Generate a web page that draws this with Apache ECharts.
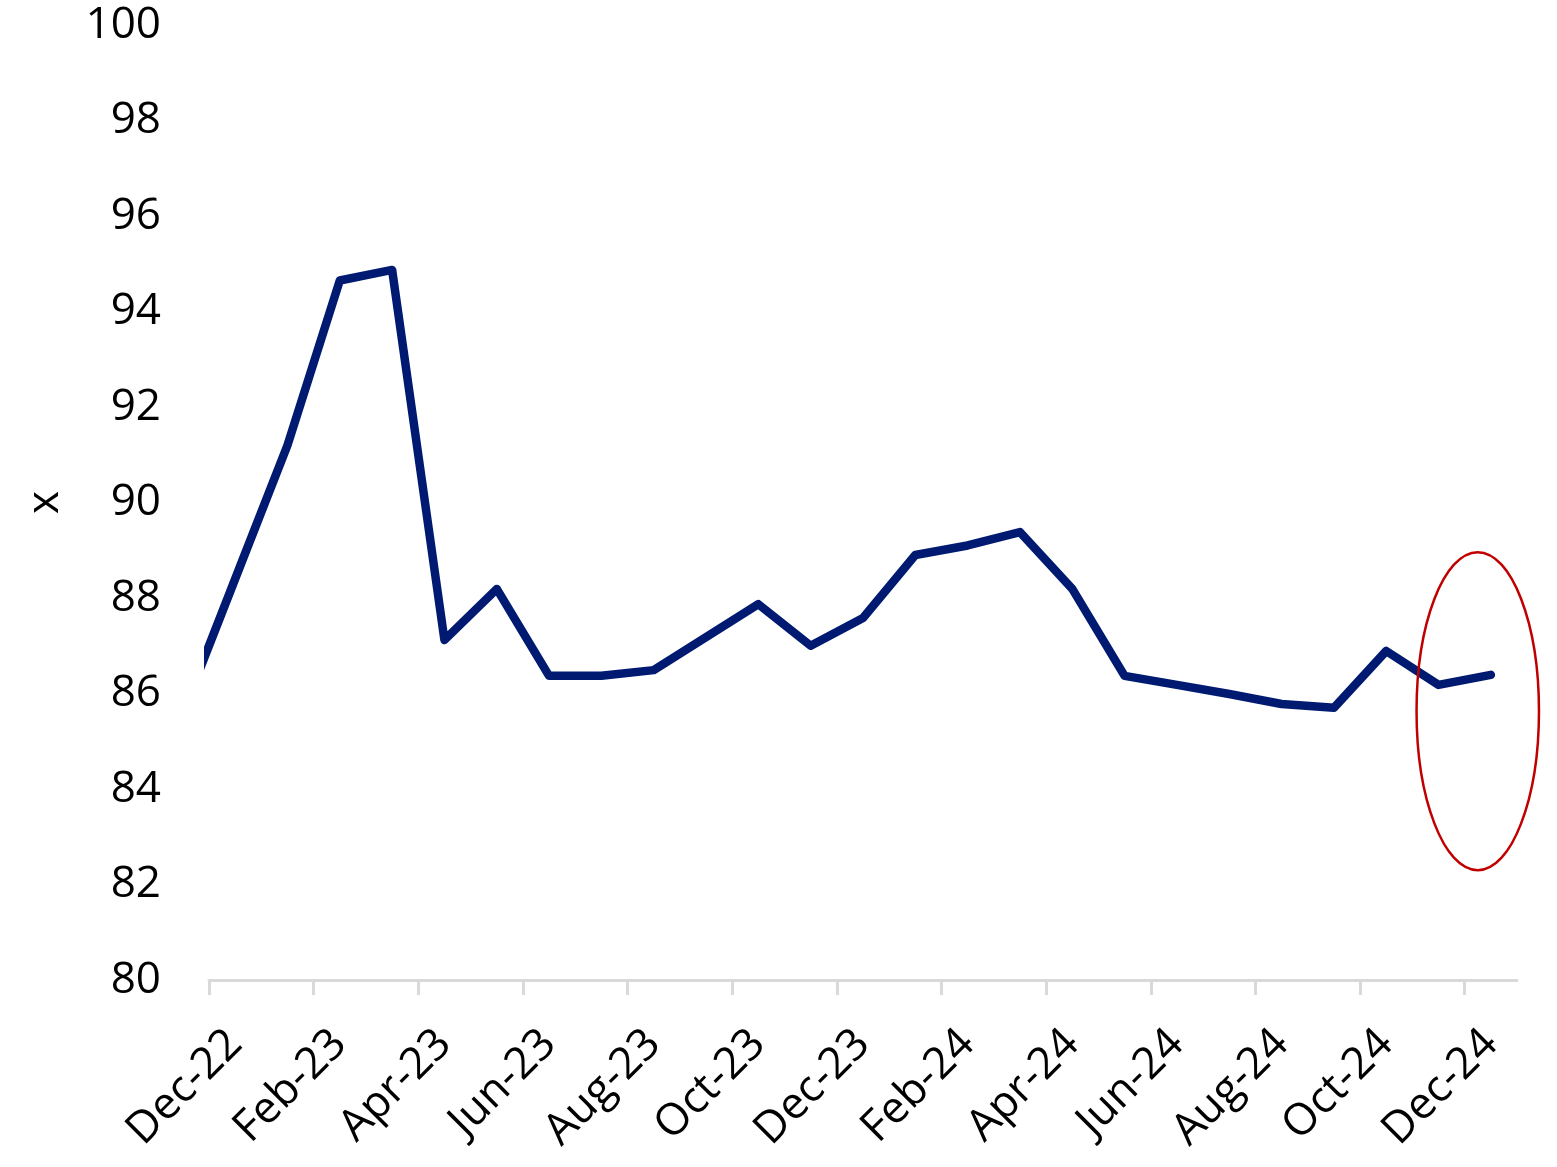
<!DOCTYPE html>
<html>
<head>
<meta charset="utf-8">
<script src="https://cdn.jsdelivr.net/npm/echarts@6/dist/echarts.min.js"></script>
<style>
  html, body { margin: 0; padding: 0; background: #fff; }
  #chart { width: 1557px; height: 1167px; }
</style>
</head>
<body>
<div id="chart"></div>
<script>
// months, Nov-22 is only there so the first segment runs off the left edge
const months = [
  "Nov-22", "Dec-22", "Jan-23", "Feb-23", "Mar-23", "Apr-23", "May-23", "Jun-23",
  "Jul-23", "Aug-23", "Sep-23", "Oct-23", "Nov-23", "Dec-23", "Jan-24", "Feb-24",
  "Mar-24", "Apr-24", "May-24", "Jun-24", "Jul-24", "Aug-24", "Sep-24", "Oct-24",
  "Nov-24", "Dec-24"
];
const values = [
  85.6, 88.4, 91.2, 94.65, 94.87, 87.12, 88.19, 86.37,
  86.37, 86.49, 87.18, 87.87, 87.0, 87.58, 88.9, 89.1,
  89.38, 88.19, 86.37, 86.18, 85.99, 85.78, 85.7, 86.89,
  86.18, 86.39
];
const monthLabels = [
  "Dec-22", "Feb-23", "Apr-23", "Jun-23", "Aug-23", "Oct-23", "Dec-23",
  "Feb-24", "Apr-24", "Jun-24", "Aug-24", "Oct-24", "Dec-24"
];
const yTicks = [80, 82, 84, 86, 88, 90, 92, 94, 96, 98, 100];

// red ring around the last readings: edges given as month position / value
const ringLeft = ["Oct-24", 0.58];
const ringRight = ["Dec-24", 0.92];
const ringTop = 88.96;
const ringBottom = 82.3;

// x position of a month: each month is one unit wide, Dec-22 starts at 0
const first = months.indexOf("Dec-22");
const posOf = (name) => months.indexOf(name) - first + 0.5;
const seriesData = months.map((m, i) => [posOf(m), values[i]]);
const labelPos = monthLabels.map(posOf);
const tickPos = labelPos.map((p) => p - 0.5);
const xMax = months.length - first;

const chart = echarts.init(document.getElementById("chart"));

const option = {
  animation: false,
  grid: { left: 209, right: 40, top: 25, bottom: 187 },
  xAxis: {
    type: "value",
    min: 0,
    max: xMax,
    axisLine: { show: true, lineStyle: { color: "#D9D9D9", width: 3 } },
    axisTick: {
      show: true,
      customValues: tickPos,
      length: 15,
      lineStyle: { color: "#D9D9D9", width: 3 }
    },
    axisLabel: {
      customValues: labelPos,
      formatter: (v) => months[Math.round(v - 0.5) + first],
      rotate: 45,
      margin: 57,
      color: "#000",
      fontFamily: "Open Sans",
      fontSize: 44
    },
    splitLine: { show: false }
  },
  yAxis: {
    type: "value",
    min: yTicks[0],
    max: yTicks[yTicks.length - 1],
    interval: 2,
    name: "x",
    nameLocation: "middle",
    nameGap: 142,
    nameRotate: 90,
    nameTextStyle: { color: "#000", fontFamily: "Open Sans", fontSize: 44 },
    axisLine: { show: false },
    axisTick: { show: false },
    splitLine: { show: false },
    axisLabel: {
      color: "#000",
      fontFamily: "Open Sans",
      fontSize: 44,
      margin: 48,
      padding: [6, 0, 0, 0]
    }
  },
  series: [
    {
      type: "line",
      data: seriesData,
      showSymbol: false,
      symbol: "none",
      clip: true,
      lineStyle: { color: "#001A72", width: 8.5, cap: "round", join: "round" }
    }
  ]
};

chart.setOption(option);

// place the ring from data positions
const x1 = chart.convertToPixel({ xAxisIndex: 0 }, posOf(ringLeft[0]) + ringLeft[1]);
const x2 = chart.convertToPixel({ xAxisIndex: 0 }, posOf(ringRight[0]) + ringRight[1]);
const y1 = chart.convertToPixel({ yAxisIndex: 0 }, ringTop);
const y2 = chart.convertToPixel({ yAxisIndex: 0 }, ringBottom);

chart.setOption({
  graphic: [
    {
      type: "ellipse",
      shape: { cx: (x1 + x2) / 2, cy: (y1 + y2) / 2, rx: (x2 - x1) / 2, ry: (y2 - y1) / 2 },
      style: { fill: "none", stroke: "#C00000", lineWidth: 2.5 },
      z: 100
    }
  ]
});
</script>
</body>
</html>
